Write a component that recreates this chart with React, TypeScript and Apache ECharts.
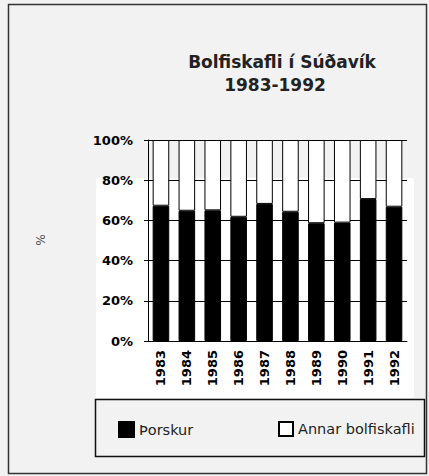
import React, { useEffect, useRef } from "react";
import * as echarts from "echarts";

const years = ["1983", "1984", "1985", "1986", "1987", "1988", "1989", "1990", "1991", "1992"];
const thorskur = [67.3, 64.8, 65.0, 61.8, 68.2, 64.3, 58.6, 58.9, 70.6, 66.8];
const annar = thorskur.map((v) => +(100 - v).toFixed(1));
const yTicks = [0, 20, 40, 60, 80, 100];
const titleLines = ["Bolfiskafli í Súðavík", "1983-1992"];
const seriesNames = ["Þorskur", "Annar bolfiskafli"];

export default function App() {
  const ref = useRef<HTMLDivElement>(null);
  useEffect(() => {
    if (!ref.current) return;
    const chart = echarts.init(ref.current, null, { renderer: "svg" });
    const axisFont = { fontFamily: "DejaVu Sans", fontWeight: "bold" as const, fontSize: 13, color: "#000" };
    chart.setOption({
      animation: false,
      backgroundColor: "#f2f2f2",
      graphic: [
        { type: "rect", silent: true, z: -10, shape: { x: 96, y: 178, width: 318, height: 220 }, style: { fill: "#ffffff" } },
        { type: "rect", silent: true, shape: { x: 8.5, y: 4.5, width: 418, height: 469 }, style: { fill: "none", stroke: "#333", lineWidth: 1.5 } },
        { type: "rect", silent: true, shape: { x: 95.5, y: 399.5, width: 329, height: 57 }, style: { fill: "none", stroke: "#111", lineWidth: 1.5 } },
        { type: "text", silent: true, x: 282, y: 62, style: { text: titleLines[0], font: "bold 17px 'DejaVu Sans'", fill: "#222", align: "center", verticalAlign: "middle" } },
        { type: "text", silent: true, x: 275, y: 85, style: { text: titleLines[1], font: "bold 17px 'DejaVu Sans'", fill: "#222", align: "center", verticalAlign: "middle" } },
        { type: "text", silent: true, x: 40, y: 240, rotation: -Math.PI / 2, style: { text: "%", font: "12px 'DejaVu Sans'", fill: "#555", align: "center", verticalAlign: "middle" } },
      ],
      legend: [
        { data: [seriesNames[0]], left: 113, top: 416, itemWidth: 15, itemHeight: 15, itemGap: 7, icon: "rect", textStyle: { fontFamily: "DejaVu Sans", fontSize: 14.5, color: "#222" } },
        { data: [seriesNames[1]], left: 273, top: 416, itemWidth: 14, itemHeight: 14, itemGap: 7, icon: "rect", textStyle: { fontFamily: "DejaVu Sans", fontSize: 14.5, color: "#222" } },
      ],
      grid: { left: 148, right: 22, top: 140, bottom: 135 },
      xAxis: [
        {
          type: "category",
          data: years,
          position: "bottom",
          axisLine: { lineStyle: { color: "#000", width: 1 } },
          axisTick: { length: 4, lineStyle: { color: "#000" } },
          axisLabel: { ...axisFont, rotate: 90, margin: 9 },
        },
        {
          type: "category",
          data: years,
          position: "bottom",
          axisLine: { show: false },
          axisTick: { inside: true, length: 4, lineStyle: { color: "#000" } },
          axisLabel: { show: false },
        },
      ],
      yAxis: [
        {
          type: "value",
          min: yTicks[0],
          max: yTicks[yTicks.length - 1],
          interval: 20,
          axisLine: { show: true, lineStyle: { color: "#000", width: 1 } },
          axisTick: { show: true, length: 4, lineStyle: { color: "#000" } },
          splitLine: { show: true, lineStyle: { color: "#000", width: 1 } },
          axisLabel: { ...axisFont, margin: 15, formatter: "{value}%" },
        },
        {
          type: "value",
          min: yTicks[0],
          max: yTicks[yTicks.length - 1],
          interval: 20,
          position: "left",
          axisLine: { show: false },
          axisTick: { show: true, inside: true, length: 4, lineStyle: { color: "#000" } },
          splitLine: { show: false },
          axisLabel: { show: false },
        },
      ],
      series: [
        {
          name: seriesNames[0],
          type: "bar",
          stack: "total",
          data: thorskur,
          barWidth: "64%",
          itemStyle: { color: "#000", borderColor: "#000", borderWidth: 1 },
        },
        {
          name: seriesNames[1],
          type: "bar",
          stack: "total",
          data: annar,
          barWidth: "64%",
          itemStyle: { color: "#fff", borderColor: "#000", borderWidth: 1 },
        },
      ],
    });
    return () => chart.dispose();
  }, []);
  return <div ref={ref} style={{ position: "fixed", left: 0, top: 0, width: 429, height: 476 }} />;
}
